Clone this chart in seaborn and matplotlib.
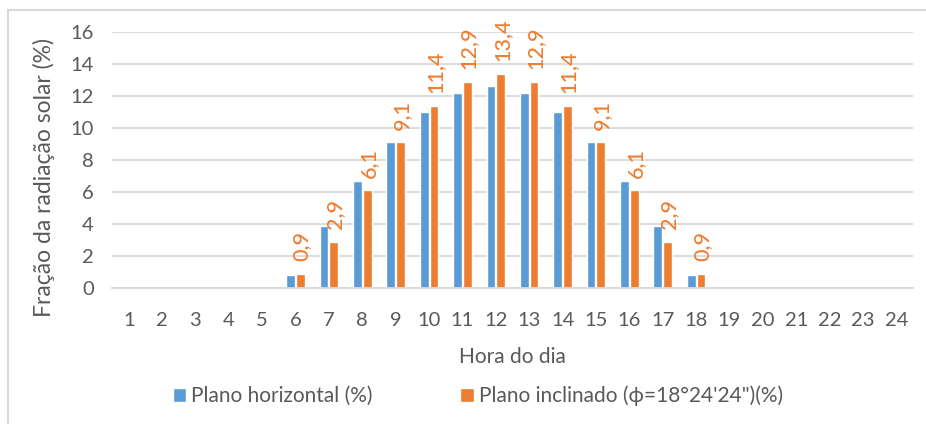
import matplotlib
matplotlib.use("Agg")
import matplotlib.pyplot as plt
from matplotlib.patches import Rectangle
import seaborn as sns
import pandas as pd

# --------------------------------------------------
# Data
# --------------------------------------------------
hours = list(range(1, 25))
horizontal = [0, 0, 0, 0, 0, 0.8, 3.9, 6.7, 9.1, 11.0, 12.2, 12.6,
              12.2, 11.0, 9.1, 6.7, 3.9, 0.8, 0, 0, 0, 0, 0, 0]
inclined = [0, 0, 0, 0, 0, 0.9, 2.9, 6.1, 9.1, 11.4, 12.9, 13.4,
            12.9, 11.4, 9.1, 6.1, 2.9, 0.9, 0, 0, 0, 0, 0, 0]
series_names = ["Plano horizontal (%)", "Plano inclinado (\u03d5=18°24'24\")(%)"]

df = pd.DataFrame({
    "hora": hours * 2,
    "valor": horizontal + inclined,
    "serie": [series_names[0]] * 24 + [series_names[1]] * 24,
})

BLUE = "#5B9BD5"
ORANGE = "#ED7D31"
TEXT = "#595959"
GRID = "#D9D9D9"

sns.set_style("white")
plt.rcParams["font.family"] = ["Lato", "DejaVu Sans"]

fig = plt.figure(figsize=(9.26, 4.24), dpi=100)
ax = fig.add_axes([112 / 926, 1 - 288 / 424, (913 - 112) / 926, (288 - 32) / 424])

sns.barplot(
    data=df, x="hora", y="valor", hue="serie",
    palette=[BLUE, ORANGE], width=0.58, gap=0.1,
    saturation=1, ax=ax, legend=True,
)

# data labels on the inclined series (non-zero only)
orange_bars = ax.containers[1]
for bar, v in zip(orange_bars, inclined):
    if v <= 0:
        continue
    ax.text(bar.get_x() + bar.get_width() / 2 + 0.04, v + 0.8,
            f"{v:.1f}".replace(".", ","), rotation=90, ha="center", va="bottom",
            color=ORANGE, fontsize=15.5, fontweight="medium")

ax.set_ylim(0, 16)
ax.set_yticks(range(0, 17, 2))
ax.set_xlim(-0.5, 23.5)
ax.yaxis.grid(True, color=GRID, linewidth=1.3)
ax.set_axisbelow(True)
for s in ["top", "right", "left"]:
    ax.spines[s].set_visible(False)
ax.spines["bottom"].set_color(GRID)
ax.spines["bottom"].set_linewidth(1.3)
ax.tick_params(axis="both", length=0, labelsize=14.5, labelcolor=TEXT)
ax.tick_params(axis="x", pad=17)
ax.tick_params(axis="y", pad=13)

ax.set_xlabel("Hora do dia", fontsize=15, color=TEXT, labelpad=13)
ax.set_ylabel("Fração da radiação solar (%)", fontsize=16.5, color=TEXT)
ax.yaxis.set_label_coords(-0.071, 0.43)

handles, labels = ax.get_legend_handles_labels()
ax.legend(handles, labels, loc="center", bbox_to_anchor=(478 / 926, 1 - 396 / 424),
          bbox_transform=fig.transFigure, ncol=2, frameon=False,
          handlelength=0.65, handleheight=0.65, handletextpad=0.25,
          columnspacing=4.2, fontsize=15, labelcolor=TEXT)

# outer chart border
fig.patches.append(Rectangle((8 / 926, -0.1), 1.2, 1 - 10 / 424 + 0.1,
                             transform=fig.transFigure, fill=False,
                             edgecolor=GRID, linewidth=1.5, zorder=0))

fig.savefig("out.png", dpi=100)
plt.close(fig)
